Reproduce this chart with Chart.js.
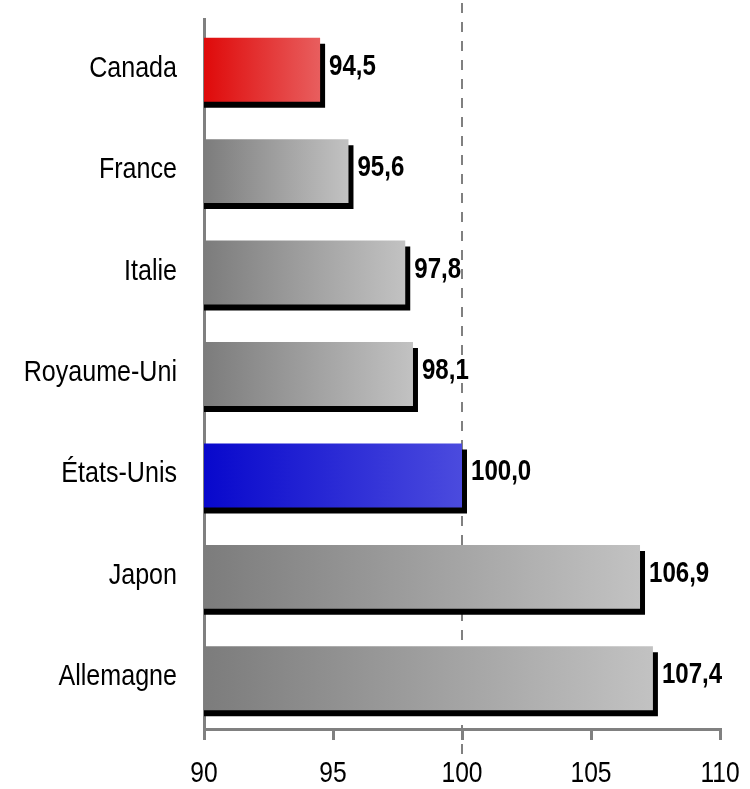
<!DOCTYPE html>
<html><head><meta charset="utf-8">
<script src="https://cdn.jsdelivr.net/npm/chart.js@4"></script>
<style>html,body{margin:0;padding:0;background:#fff}#wrap{width:750px;height:789px}</style>
</head><body><div id="wrap"><canvas id="c" width="750" height="789"></canvas></div>
<script>
const categories = ["Canada","France","Italie","Royaume-Uni","États-Unis","Japon","Allemagne"];
const values = [94.5, 95.6, 97.8, 98.1, 100.0, 106.9, 107.4];
const valueLabels = ["94,5","95,6","97,8","98,1","100,0","106,9","107,4"];
const xTicks = [90, 95, 100, 105, 110];
const referenceValue = 100;

const FONT = '"Liberation Sans", Arial, sans-serif';
const palettes = {
  "Canada": ["#df0a0a", "#e85e5e"],
  "États-Unis": ["#0808cc", "#4b4bde"],
  "default": ["#7c7c7c", "#c2c2c2"]
};

function barFill(ctx) {
  const chart = ctx.chart;
  const xs = chart.scales.x;
  const p = palettes[categories[ctx.dataIndex]] || palettes.default;
  if (!xs || ctx.dataIndex === undefined) return p[0];
  const x0 = xs.getPixelForValue(xs.min);
  const x1 = xs.getPixelForValue(values[ctx.dataIndex]);
  if (!isFinite(x0) || !isFinite(x1) || x1 <= x0) return p[0];
  const g = chart.ctx.createLinearGradient(x0, 0, x1, 0);
  g.addColorStop(0, p[0]);
  g.addColorStop(1, p[1]);
  return g;
}

function condensedText(c, text, x, y, align, font, sx) {
  c.save();
  c.translate(x, y);
  c.scale(sx, 1);
  c.font = font;
  c.textAlign = align;
  c.textBaseline = "middle";
  c.fillStyle = "#000";
  c.fillText(text, 0, 0);
  c.restore();
}

const shadowPlugin = {
  id: "shadow",
  beforeDatasetDraw(chart) {
    const c = chart.ctx;
    c.save();
    c.shadowColor = "#000";
    c.shadowOffsetX = 5;
    c.shadowOffsetY = 6;
    c.shadowBlur = 0;
  },
  afterDatasetDraw(chart) { chart.ctx.restore(); }
};

const refLinePlugin = {
  id: "refLine",
  beforeDatasetsDraw(chart) {
    const c = chart.ctx, xs = chart.scales.x;
    const x = Math.round(xs.getPixelForValue(referenceValue));
    c.save();
    c.strokeStyle = "#808080";
    c.lineWidth = 2;
    c.setLineDash([10, 9]);
    c.beginPath();
    c.moveTo(x, 3);
    c.lineTo(x, 758);
    c.stroke();
    c.restore();
  }
};

const textPlugin = {
  id: "texts",
  afterDatasetsDraw(chart) {
    const c = chart.ctx;
    const meta = chart.getDatasetMeta(0);
    const xs = chart.scales.x, ys = chart.scales.y;
    meta.data.forEach((bar, i) => {
      condensedText(c, valueLabels[i], bar.x + 9, bar.y - 3, "left", "bold 29px " + FONT, 0.83);
      condensedText(c, categories[i], 177, ys.getPixelForValue(i) - 1, "right", "29px " + FONT, 0.865);
    });
    xTicks.forEach(v => {
      condensedText(c, String(v), xs.getPixelForValue(v), 774, "center", "30px " + FONT, 0.82);
    });
  }
};

const chart = new Chart(document.getElementById("c"), {
  type: "bar",
  data: {
    labels: categories,
    datasets: [{
      data: values,
      backgroundColor: barFill,
      borderWidth: 0,
      barPercentage: 0.9,
      categoryPercentage: 0.7
    }]
  },
  options: {
    indexAxis: "y",
    responsive: false,
    animation: false,
    events: [],
    layout: { padding: { top: 19, right: 30, left: 0, bottom: 0 } },
    plugins: { legend: { display: false }, tooltip: { enabled: false } },
    scales: {
      x: {
        min: 90, max: 110,
        afterBuildTicks(scale) { scale.ticks = xTicks.map(v => ({ value: v })); },
        afterFit(scale) { scale.height = 60; },
        grid: { drawOnChartArea: false, drawTicks: true, tickLength: 11, color: "#808080", lineWidth: 3 },
        border: { display: true, color: "#808080", width: 3 },
        ticks: { display: false }
      },
      y: {
        afterFit(scale) { scale.width = 204; },
        grid: { display: false },
        border: { display: true, color: "#808080", width: 3 },
        ticks: { display: false }
      }
    }
  },
  plugins: [shadowPlugin, refLinePlugin, textPlugin]
});
chart.update();
</script></body></html>
